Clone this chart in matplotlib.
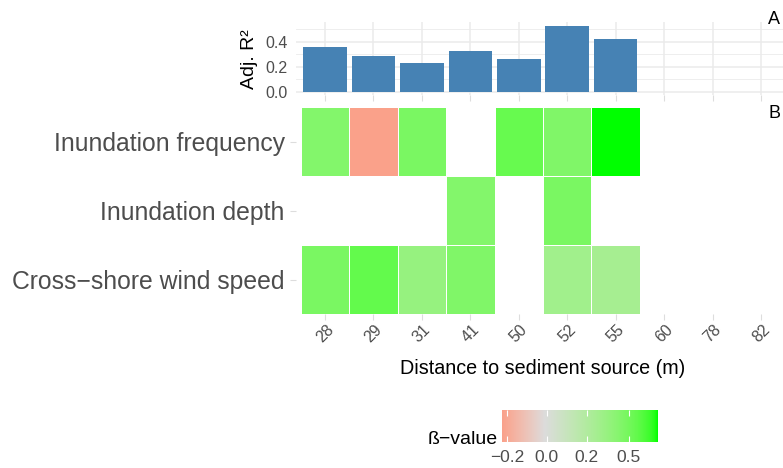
import matplotlib
matplotlib.use("Agg")
import matplotlib.pyplot as plt
from matplotlib.colors import ListedColormap, Normalize, to_rgb
import numpy as np

plt.rcParams["font.family"] = ["Liberation Sans", "DejaVu Sans"]

# distance classes (m)
sites = ["28", "29", "31", "41", "50", "52", "55", "60", "78", "82"]

# adjusted R2 of the models that were fitted
adj_r2 = [0.36, 0.29, 0.23, 0.33, 0.26, 0.53, 0.42]

# standardised coefficients per predictor (nan = not selected)
predictors = ["Inundation frequency", "Inundation depth", "Cross\u2212shore wind speed"]
nan = np.nan
beta_frequency = [0.44, -0.25, 0.47, nan, 0.53, 0.45, 0.66, nan, nan, nan]
beta_depth = [nan, nan, nan, 0.44, nan, 0.47, nan, nan, nan, nan]
beta_wind = [0.47, 0.54, 0.37, 0.45, nan, 0.32, 0.30, nan, nan, nan]

beta_breaks = [-0.22, 0.01, 0.245, 0.49]
beta_labels = ["\u22120.2", "0.0", "0.2", "0.5"]

GRID = "#EBEBEB"
TEXT = "#4D4D4D"


# --- diverging palette interpolated in CIELAB (low / mid / high) ---
WHITE = np.array([0.95047, 1.0, 1.08883])
M = np.array([[0.4124, 0.3576, 0.1805],
              [0.2126, 0.7152, 0.0722],
              [0.0193, 0.1192, 0.9505]])


def to_lab(c):
    c = np.asarray(to_rgb(c))
    lin = np.where(c <= 0.04045, c / 12.92, ((c + 0.055) / 1.055) ** 2.4)
    xyz = M @ lin / WHITE
    d = 6 / 29
    f = np.where(xyz > d ** 3, np.cbrt(xyz), xyz / (3 * d * d) + 4 / 29)
    return np.array([116 * f[1] - 16, 500 * (f[0] - f[1]), 200 * (f[1] - f[2])])


def from_lab(lab):
    lab = np.atleast_2d(lab)
    fy = (lab[:, 0] + 16) / 116
    f = np.stack([fy + lab[:, 1] / 500, fy, fy - lab[:, 2] / 200], axis=1)
    d = 6 / 29
    xyz = np.where(f > d, f ** 3, 3 * d * d * (f - 4 / 29)) * WHITE
    lin = np.clip(xyz @ np.linalg.inv(M).T, 0, 1)
    rgb = np.where(lin <= 0.0031308, 12.92 * lin, 1.055 * lin ** (1 / 2.4) - 0.055)
    return np.clip(rgb, 0, 1)


def gradient2(low, mid, high, n=256):
    lo, mi, hi = to_lab(low), to_lab(mid), to_lab(high)
    t = np.linspace(0, 1, n)[:, None]
    lab = np.where(t < 0.5, lo + (mi - lo) * (t / 0.5), mi + (hi - mi) * ((t - 0.5) / 0.5))
    return ListedColormap(from_lab(lab))


cmap = gradient2("red", "gainsboro", "#00FF00")

beta = np.array([beta_frequency, beta_depth, beta_wind])
vmin, vmax = np.nanmin(beta), np.nanmax(beta)
lim = max(abs(vmin), abs(vmax))
norm = Normalize(-lim, lim)  # midpoint at zero

W, H = 783, 468
fig = plt.figure(figsize=(W / 100, H / 100), dpi=100)
left, width = 295.9 / W, 494.2 / W

# --- A: model fit ---
ax_r2 = fig.add_axes([left, (H - 95.3) / H, width, 73.3 / H])
x = np.arange(len(sites))
ax_r2.bar(np.arange(len(adj_r2)), adj_r2, width=0.9, color="steelblue", zorder=2)
ax_r2.set_xlim(-0.6, len(sites) - 0.4)
ax_r2.set_ylim(-0.0267, 0.56)
ax_r2.set_xticks(x)
ax_r2.set_xticklabels([])
ax_r2.set_yticks([0.0, 0.2, 0.4])
ax_r2.set_yticks([0.1, 0.3, 0.5], minor=True)
ax_r2.set_yticklabels(["0.0", "0.2", "0.4"], fontsize=11.5, color=TEXT)
ax_r2.grid(True, which="major", color=GRID, lw=1.1, zorder=0)
ax_r2.grid(True, which="minor", axis="y", color=GRID, lw=0.6, zorder=0)
ax_r2.tick_params(axis="y", which="both", length=0, pad=6)
ax_r2.tick_params(axis="x", length=4, color="#DDDDDD", width=0.8)
for s in ax_r2.spines.values():
    s.set_visible(False)
ax_r2.set_ylabel("Adj. R\u00b2", fontsize=14, labelpad=5)

# --- B: coefficients ---
ax_hm = fig.add_axes([left, (H - 314) / H, width, 207 / H])
xe = np.arange(len(sites) + 1) - 0.5
ye = np.arange(len(predictors) + 1) - 0.5
ax_hm.pcolormesh(xe, ye, np.ma.masked_invalid(beta), cmap=cmap, norm=norm,
                 edgecolors="white", linewidth=0.5)
ax_hm.set_xlim(-0.6, len(sites) - 0.4)
ax_hm.set_ylim(len(predictors) - 0.5, -0.5)
ax_hm.set_xticks(x)
ax_hm.set_xticklabels(sites, rotation=45, ha="center", va="top", fontsize=11.5, color=TEXT)
ax_hm.set_yticks(np.arange(len(predictors)))
ax_hm.set_yticklabels(predictors, fontsize=17.8, color=TEXT)
ax_hm.tick_params(length=4, color="#DDDDDD", width=0.8, pad=2)
ax_hm.tick_params(axis="y", pad=4)
for s in ax_hm.spines.values():
    s.set_visible(False)

fig.text(543 / W, 1 - 369 / H, "Distance to sediment source (m)",
         ha="center", va="center", fontsize=14.2)
fig.text(774 / W, 1 - 20 / H, "A", ha="center", va="center", fontsize=13)
fig.text(774 / W, 1 - 113 / H, "B", ha="center", va="center", fontsize=13)

# --- colour bar ---
cax = fig.add_axes([502 / W, (H - 442) / H, 156 / W, 32 / H])
grad = np.linspace(vmin, vmax, 300)[None, :]
cax.imshow(grad, cmap=cmap, norm=norm, extent=[vmin, vmax, 0, 1], aspect="auto")
cax.vlines(beta_breaks, 0, 0.2, color="white", lw=0.8)
cax.vlines(beta_breaks, 0.8, 1, color="white", lw=0.8)
cax.set_xlim(vmin, vmax)
cax.set_ylim(0, 1)
cax.set_yticks([])
cax.set_xticks(beta_breaks)
cax.set_xticklabels(beta_labels, fontsize=12.5, color=TEXT)
cax.tick_params(axis="x", length=0, pad=6)
for s in cax.spines.values():
    s.set_visible(False)
fig.text(498 / W, 1 - 440 / H, "\u00df\u2212value", ha="right", va="center", fontsize=14)

fig.savefig("out.png", dpi=100, facecolor="white")
